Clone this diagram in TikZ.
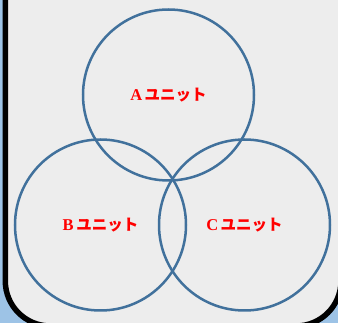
\documentclass[tikz,border=0pt]{standalone}
\usepackage{fontspec}
\setmainfont{Liberation Serif}
\newfontfamily\jp{Noto Sans CJK JP}
\definecolor{bgblue}{HTML}{9DC3E6}
\definecolor{panel}{HTML}{EDEDED}
\definecolor{ring}{HTML}{41719C}
\definecolor{lbl}{HTML}{FF0000}
\begin{document}
\begin{tikzpicture}[x=1pt,y=-1pt,
  unit/.style={circle, draw=ring, line width=2.5pt, minimum size=171pt, inner sep=0pt,
    text=lbl, font=\fontsize{16.5}{18}\selectfont\bfseries},
  frame/.style={draw=black, fill=panel, line width=5.5pt, rounded corners=45pt}]
\useasboundingbox (0,0) rectangle (338,323);
\fill[bgblue] (0,0) rectangle (338,323);
\draw[frame] (5.3,-60) rectangle (341,326);
\node[unit] (A) at (168.5,95) {A\hspace{2.5pt}{\jp\fontsize{15.5}{17}\selectfont ユニット}};
\node[unit] (B) at (100.5,225) {B\hspace{2.5pt}{\jp\fontsize{15.5}{17}\selectfont ユニット}};
\node[unit] (C) at (244.5,225) {C\hspace{2.5pt}{\jp\fontsize{15.5}{17}\selectfont ユニット}};
\end{tikzpicture}
\end{document}
